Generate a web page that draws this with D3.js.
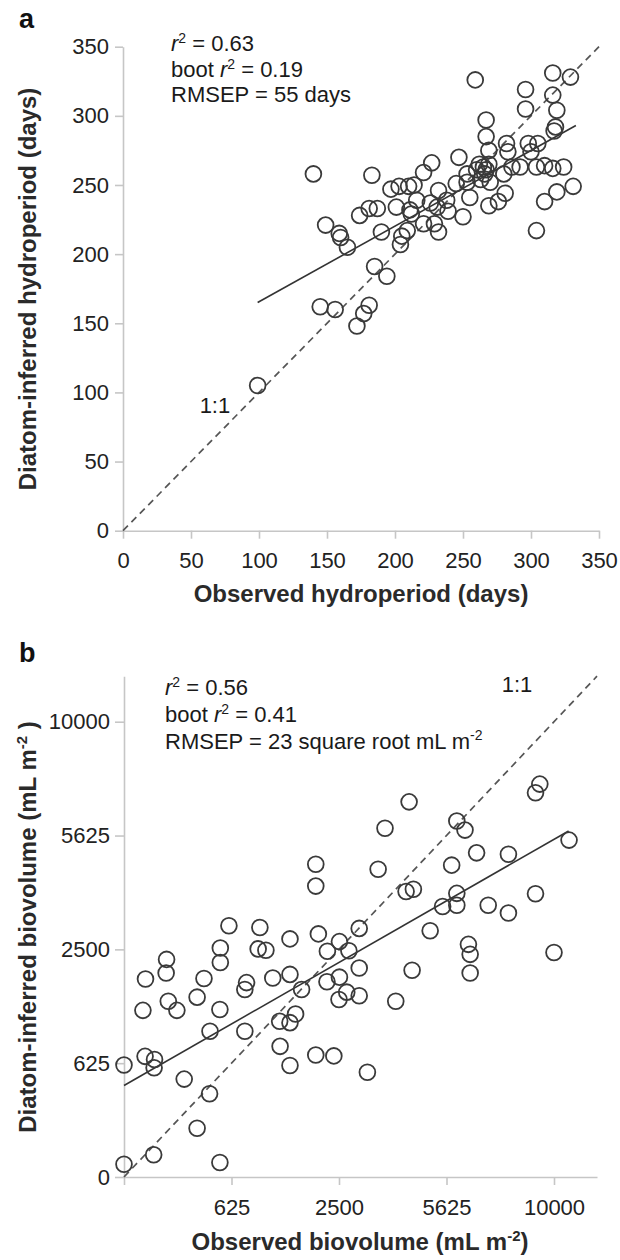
<!DOCTYPE html>
<html><head><meta charset="utf-8">
<script src="https://cdn.jsdelivr.net/npm/d3@7"></script>
<style>
body{margin:0;background:#fff;}
svg text{font-family:"Liberation Sans", Arial, Helvetica, sans-serif;}
</style></head>
<body><svg id="chart" width="620" height="1260"></svg>
<script>
// ---------- Panel a: hydroperiod (days) [observed, inferred] ----------
const hydroPoints = [
 [99,105],
 [145,162],[156,160],[172,148],[177,157],[181,163],
 [185,191],[194,184],
 [140,258],[183,257],
 [149,221],[159,215],[160,212],[165,205],
 [174,228],[181,233],[187,233],[190,216],
 [197,247],[203,249],[210,249],[214,250],
 [201,234],[211,232],[216,239],[212,229],
 [204,207],[205,213],[209,217],
 [221,222],[221,259],[227,266],
 [226,237],[231,234],[232,246],[238,239],[239,231],[229,222],[232,216],
 [245,251],[247,270],[250,227],[253,258],[253,252],[255,241],
 [259,326],
 [260,261],[262,265],[265,263],[267,261],[269,265],[263,254],[270,252],[266,258],
 [267,297],[267,285],[269,275],
 [269,235],[276,238],[281,244],
 [280,258],[282,280],[283,274],[286,263],[292,263],
 [296,319],[296,305],[298,280],[300,274],[305,280],
 [304,263],[310,264],[316,262],[324,263],
 [304,217],[310,238],[319,245],[331,249],
 [316,331],[329,328],[316,315],[319,304],[318,292],[317,289]
];
const hydroFit = [[99,165],[333,293]];
const hydroOneToOne = [[0,0],[350,350]];
const hydroTicks = [0,50,100,150,200,250,300,350];
const hydroStats = ["= 0.63","= 0.19","RMSEP = 55 days"];

// ---------- Panel b: biovolume, square-root units [observed, inferred] ----------
const bioPoints = [
 [0,2.8],[6.9,4.9],[22.3,3.2],[17,10.7],[19.9,18.3],[14,21.5],
 [0,24.6],[4.9,26.5],[7.1,25.8],[7,24],
 [20,32],[28.1,32],[36.3,28.7],[38.6,24.5],[44.6,26.8],[48.8,26.6],[56.6,23],
 [36.2,34.2],[38.6,33.9],[39.9,35.8],[41.3,41.2],
 [4.4,36.6],[10.3,38.6],[12.3,36.6],[17,39.5],[22.3,36.8],
 [5,43.5],[9.8,44.8],[18.6,43.6],[28.5,42.7],[28.1,41.2],[34.6,43.7],[38.6,44.5],
 [47.2,42.9],[50.1,43.9],[51.8,40.6],[50,39],
 [54.7,45.9],[54.7,39.8],[63.2,38.6],[67,45.4],[80.5,44.8],[80.5,48.9],[80.1,51.1],[100,49.3],
 [9.9,47.8],[22.4,47.1],[22.4,50.3],[31.2,50.1],[33,49.8],[38.6,52.3],[45.2,53.4],[47.3,49.6],[50.1,51.7],[52.3,49.7],
 [24.4,55.2],[31.6,54.8],[54.7,54.6],[71.2,54.1],
 [44.6,68.7],[44.6,63.9],[59.1,67.6],[60.7,76.6],[66.3,82.4],[65.6,62.7],[67.3,63.2],
 [74.1,59.4],[76.2,68.5],[77.4,62.3],[77.4,59.7],[77.4,78.2],[79.3,76.2],[82,71.2],
 [84.7,59.7],[89.4,70.9],[89.4,58],[95.7,62.2],[95.7,84.4],[96.7,86.3],[103.5,74]
];
const bioFit = [[0,20.1],[103.4,76]];
const bioOneToOne = [[0,0],[110,110]];
const bioTicks = [0,25,50,75,100];
const bioYTickLabels = ["0","625","2500","5625","10000"];
const bioXTickLabels = ["","625","2500","5625","10000"];
const bioStats = ["= 0.56","= 0.41","RMSEP = 23 square root mL m"];

const FONT = '"Liberation Sans", Arial, Helvetica, sans-serif';
const svg = d3.select("#chart");

function styleAxis(g, size){
  g.attr("font-family", FONT).attr("font-size", size);
  g.select(".domain").attr("stroke","#c6c6c6").attr("stroke-width",1.6);
  g.selectAll(".tick line").attr("stroke","#c6c6c6").attr("stroke-width",1.6);
  g.selectAll(".tick text").attr("fill","#222");
}

function rSquared(t, x, y, rest, prefix){
  const txt = t.append("text").attr("x",x).attr("y",y).attr("font-size",22).attr("fill","#1a1a1a");
  if(prefix) txt.append("tspan").text(prefix);
  txt.append("tspan").attr("font-style","italic").text("r");
  txt.append("tspan").attr("dy",-8).attr("font-size",14).text("2");
  txt.append("tspan").attr("dy",8).text(" " + rest);
}

function panel(cfg){
  const {x, y, points, fit, oneToOne} = cfg;
  const g = svg.append("g");
  // axes
  const xa = g.append("g").attr("transform",`translate(0,${y(0)})`)
    .call(d3.axisBottom(x).tickValues(cfg.xTicks).tickSize(8).tickPadding(14).tickSizeOuter(0)
      .tickFormat((d,i)=>cfg.xLabels[i]));
  styleAxis(xa, 22);
  const ya = g.append("g").attr("transform",`translate(${x(0)},0)`)
    .call(d3.axisLeft(y).tickValues(cfg.yTicks).tickSize(cfg.ytick).tickPadding(cfg.ypad).tickSizeOuter(0)
      .tickFormat((d,i)=>cfg.yLabels[i]));
  styleAxis(ya, 22);

  const line = d3.line().x(d=>x(d[0])).y(d=>y(d[1]));
  g.append("path").datum(oneToOne).attr("d",line).attr("fill","none")
    .attr("stroke","#555").attr("stroke-width",1.7).attr("stroke-dasharray","7,5");
  g.append("path").datum(fit).attr("d",line).attr("fill","none")
    .attr("stroke","#333").attr("stroke-width",1.6);

  g.append("g").selectAll("circle").data(points).join("circle")
    .attr("cx",d=>x(d[0])).attr("cy",d=>y(d[1])).attr("r",7.9)
    .attr("fill","none").attr("stroke","#3a3a3a").attr("stroke-width",1.8);

  // 1:1 label
  g.append("text").attr("x",x(cfg.oneLabel[0])).attr("y",y(cfg.oneLabel[1]))
    .attr("text-anchor","middle").attr("font-size",22).attr("fill","#1a1a1a").text("1:1");
  return g;
}

// ----- Panel a -----
const xA = d3.scaleLinear().domain([0,350]).range([123,599]);
const yA = d3.scaleLinear().domain([0,350]).range([530.7,46.7]);
const gA = panel({x:xA, y:yA, points:hydroPoints, fit:hydroFit, oneToOne:hydroOneToOne,
  xTicks:hydroTicks, yTicks:hydroTicks, xLabels:hydroTicks.map(String), yLabels:hydroTicks.map(String),
  ytick:8, ypad:6, oneLabel:[67.6,85.1]});

// ----- Panel b -----
const xB = d3.scaleLinear().domain([0,110]).range([124,597]);
const yB = d3.scaleLinear().domain([0,110]).range([1177,676.2]);
const gB = panel({x:xB, y:yB, points:bioPoints, fit:bioFit, oneToOne:bioOneToOne,
  xTicks:bioTicks, yTicks:bioTicks, xLabels:bioXTickLabels, yLabels:bioYTickLabels,
  ytick:9, ypad:5, oneLabel:[91.4,106.5]});

// Panel letters
svg.append("text").attr("x",19).attr("y",28).attr("font-size",27).attr("font-weight","bold").attr("fill","#111").text("a");
svg.append("text").attr("x",19).attr("y",662).attr("font-size",27).attr("font-weight","bold").attr("fill","#111").text("b");

// Stats annotations
rSquared(svg, 171, 51, hydroStats[0]);
rSquared(svg, 171, 76.5, hydroStats[1], "boot ");
svg.append("text").attr("x",171).attr("y",102).attr("font-size",22).attr("fill","#1a1a1a").text(hydroStats[2]);

rSquared(svg, 165, 695, bioStats[0]);
rSquared(svg, 165, 722, bioStats[1], "boot ");
const rm = svg.append("text").attr("x",165).attr("y",749).attr("font-size",22).attr("fill","#1a1a1a");
rm.append("tspan").text(bioStats[2]);
rm.append("tspan").attr("dy",-9).attr("font-size",14).text("-2");

// Axis titles
function title(x, y, rot, parts){
  const t = svg.append("text").attr("transform",`translate(${x},${y}) rotate(${rot})`)
    .attr("text-anchor","middle").attr("font-size",24).attr("font-weight","bold").attr("fill","#2a2a2a");
  parts.forEach(p=>{
    const s = t.append("tspan").text(p.t);
    if(p.sup){ s.attr("dy",-9).attr("font-size",15); }
    if(p.down){ s.attr("dy",9); }
  });
}
title(361, 602, 0, [{t:"Observed hydroperiod (days)"}]);
title(36, 289, -90, [{t:"Diatom-inferred hydroperiod (days)"}]);
title(360, 1250, 0, [{t:"Observed biovolume (mL m"},{t:"-2",sup:true},{t:")",down:true}]);
title(36, 927, -90, [{t:"Diatom-inferred biovolume (mL m"},{t:"-2",sup:true},{t:" )",down:true}]);
</script>
</body></html>
